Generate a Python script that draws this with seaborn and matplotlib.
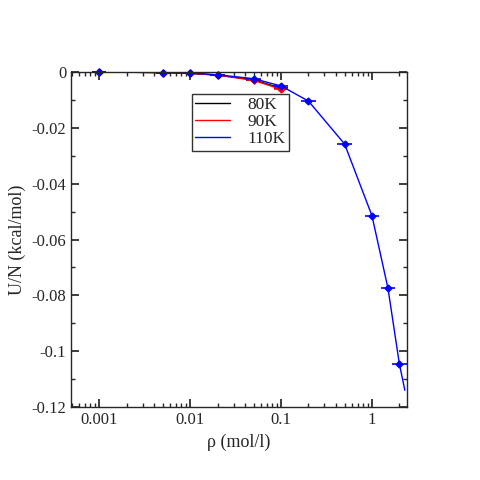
import numpy as np
import pandas as pd
import seaborn as sns
import matplotlib.pyplot as plt
from matplotlib.ticker import FixedLocator, LogLocator, NullFormatter

sns.set_theme(style="ticks")
plt.rcParams['font.family'] = ['Liberation Serif', 'DejaVu Serif']

rho_80 = [0.001, 0.005, 0.01, 0.02, 0.05, 0.1]
u_80 = [0.0, -0.0002, -0.0005, -0.0011, -0.0028, -0.0058]
err_80 = [0.0003, 0.0003, 0.0003, 0.0003, 0.0004, 0.0005]

rho_90 = [0.001, 0.005, 0.01, 0.02, 0.05, 0.1]
u_90 = [0.0, -0.0002, -0.0005, -0.0011, -0.0030, -0.0062]
err_90 = [0.0003, 0.0003, 0.0003, 0.0003, 0.0005, 0.0006]

rho_110 = [0.001, 0.005, 0.01, 0.02, 0.05, 0.1, 0.2, 0.5, 1.0, 1.5, 2.0, 2.3]
u_110 = [0.0, -0.0002, -0.0004, -0.0010, -0.0024, -0.0050, -0.0104, -0.0258, -0.0515, -0.0775, -0.1045, -0.1140]
err_110 = [0.0003, 0.0003, 0.0003, 0.0003, 0.0004, 0.0005, 0.0005, 0.0006, 0.0006, 0.0007, 0.0009, 0.0]

fig, ax = plt.subplots(figsize=(4.8, 4.8), dpi=100)
fig.subplots_adjust(left=0.148, right=0.848, top=0.85, bottom=0.152)

series = [("80K", rho_80, u_80, err_80, "black"),
          ("90K", rho_90, u_90, err_90, "red"),
          ("110K", rho_110, u_110, err_110, "blue")]
for label, x, y, e, c in series:
    df = pd.DataFrame({"rho": x, "u": y})
    sns.lineplot(data=df, x="rho", y="u", color=c, lw=1, label=label, ax=ax)
    n = len(x) - 1 if label == "110K" else len(x)
    xs = np.array(x[:n])
    eb = ax.errorbar(xs, y[:n], yerr=e[:n], xerr=[xs - xs / 1.2, xs * 0.2],
                     fmt="D", ms=3.5, color=c, elinewidth=1.2, capsize=0)
    for art in eb.get_children():
        art.set_clip_on(False)
    eb[0].set_clip_on(False)

ax.set_xscale("log")
ax.set_xlim(0.00049, 2.43)
ax.set_ylim(-0.12, 0)
ax.xaxis.set_major_locator(FixedLocator([0.001, 0.01, 0.1, 1]))
ax.set_xticklabels(["0.001", "0.01", "0.1", "1"])
ax.xaxis.set_minor_locator(LogLocator(base=10, subs=np.arange(2, 10)))
ax.xaxis.set_minor_formatter(NullFormatter())
ax.set_yticks(np.arange(-0.12, 0.001, 0.02))
ax.set_yticklabels(["-0.12", "-0.1", "-0.08", "-0.06", "-0.04", "-0.02", "0"])
ax.yaxis.set_minor_locator(FixedLocator(np.arange(-0.11, 0, 0.02)))
ax.tick_params(which="both", direction="in", top=True, right=True, labelsize=12)
ax.tick_params(which="major", length=6)
ax.tick_params(which="minor", length=3)
for s in ax.spines.values():
    s.set_linewidth(1)
ax.set_xlabel("ρ (mol/l)", fontsize=13)
ax.set_ylabel("U/N (kcal/mol)", fontsize=13)

leg = ax.legend(loc="upper left", bbox_to_anchor=(0.36, 0.935), fontsize=12.5,
                frameon=True, fancybox=False, edgecolor="black", handlelength=2.0,
                borderpad=0.2, labelspacing=0.05, handletextpad=1.0, borderaxespad=0)
leg.get_frame().set_linewidth(1)

fig.savefig("out.png", dpi=100)
